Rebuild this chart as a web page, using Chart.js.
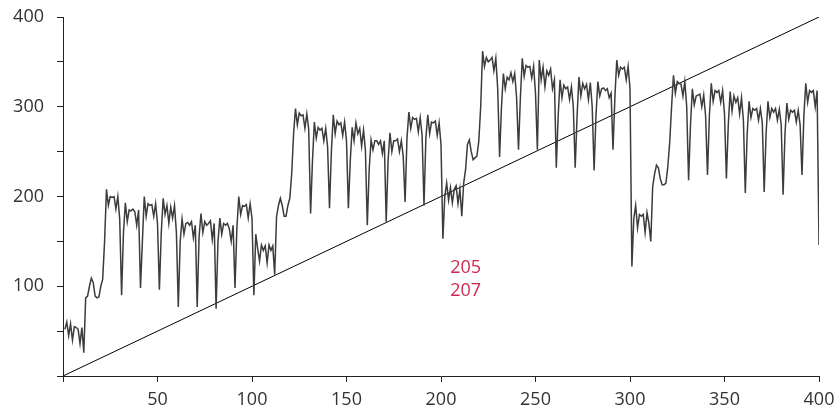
<!DOCTYPE html>
<html>
<head>
<meta charset="utf-8">
<script src="https://cdn.jsdelivr.net/npm/chart.js@4.4.1/dist/chart.umd.min.js"></script>
<style>
html,body{margin:0;padding:0;background:#fff;}
#wrap{width:836px;height:419px;position:relative;}
</style>
</head>
<body>
<div id="wrap"><canvas id="c" width="836" height="419"></canvas></div>
<script>
// series values for x = 1 .. 400
const seriesStart = 1;
const values = [
 52,60,45,58,40,55,54,52,36,54,
 26,87,89,100,109,104,89,87,88,100,
 108,150,208,190,200,199,200,186,200,175,
 90,160,193,172,185,184,186,183,168,185,
 98,150,200,178,192,190,191,178,192,170,
 96,160,198,180,190,170,188,176,190,160,
 77,150,175,158,170,171,168,172,154,168,
 77,155,181,160,172,168,170,173,152,170,
 75,150,176,158,170,168,170,164,150,168,
 98,165,200,180,190,189,191,176,192,176,
 90,158,142,128,146,140,145,126,146,140,
 145,113,178,190,198,190,178,178,190,198,
 225,270,298,280,293,290,291,276,292,275,
 181,240,283,265,277,274,276,262,276,255,
 187,250,291,270,284,280,282,268,283,262,
 187,240,277,262,282,270,276,256,274,252,
 168,230,263,252,262,262,258,262,248,262,
 172,240,271,250,262,262,264,250,262,245,
 194,265,294,276,288,286,287,272,288,268,
 190,265,291,270,283,282,284,268,282,258,
 153,200,215,196,210,193,208,212,192,208,
 178,215,230,258,263,250,241,243,245,262,
 300,362,345,355,350,352,355,340,354,320,
 244,300,337,320,333,330,338,328,337,310,
 252,310,354,334,346,344,345,332,345,315,
 252,352,330,344,322,340,335,342,320,330,
 232,290,330,310,324,320,322,308,322,300,
 232,290,333,312,326,320,325,308,327,300,
 229,290,328,312,320,321,318,320,310,315,
 252,310,352,335,344,342,344,330,345,320,
 122,175,190,165,180,178,180,160,182,170,
 150,211,225,235,232,220,213,213,215,233,
 260,300,335,315,328,326,325,312,328,300,
 218,280,320,302,312,313,314,300,313,290,
 224,290,326,306,318,316,318,305,318,292,
 220,280,317,295,312,305,310,292,310,285,
 204,270,306,288,298,296,298,285,298,282,
 205,270,306,288,298,294,298,285,297,280,
 202,270,304,286,296,294,296,283,296,280,
 224,290,326,305,318,316,318,300,318,146
];
// reference diagonal y = x
const diagX = [0, 400];
const diagY = [0, 400];
// annotation texts and positions (data units)
const noteTexts = ['205', '207'];
const noteX = [213, 213];
const noteY = [121, 95];
// axis ticks
const xTickLabels = [50,100,150,200,250,300,350,400];
const yTickLabels = [100,200,300,400];

const seriesPoints = values.map((v,i)=>({x: seriesStart + i, y: v}));
const diagPoints = diagX.map((x,i)=>({x: x, y: diagY[i]}));

const notesPlugin = {
  id: 'notes',
  afterDatasetsDraw(chart){
    const ctx = chart.ctx, xs = chart.scales.x, ys = chart.scales.y;
    ctx.save();
    ctx.font = '18px "Open Sans"';
    ctx.fillStyle = '#d0294f';
    ctx.textAlign = 'center';
    ctx.textBaseline = 'middle';
    noteTexts.forEach((t,i)=>{
      ctx.fillText(t, xs.getPixelForValue(noteX[i]), ys.getPixelForValue(noteY[i]));
    });
    ctx.restore();
  }
};

Chart.defaults.font.family = '"Open Sans"';
Chart.defaults.font.size = 18;
Chart.defaults.color = '#333';

new Chart(document.getElementById('c'), {
  type: 'line',
  data: {
    datasets: [
      {
        data: seriesPoints,
        borderColor: '#3c3c3c',
        borderWidth: 1.5,
        pointRadius: 0,
        tension: 0,
        fill: false
      },
      {
        data: diagPoints,
        borderColor: '#000',
        borderWidth: 1,
        pointRadius: 0,
        fill: false
      }
    ]
  },
  options: {
    responsive: false,
    animation: false,
    events: [],
    layout: { padding: { left: 0, right: 17, top: 17, bottom: 0 } },
    plugins: { legend: { display: false }, tooltip: { enabled: false } },
    scales: {
      x: {
        type: 'linear', min: 0, max: 400,
        afterFit(s){ s.height = 43; s.paddingLeft = 0; s.paddingRight = 0; },
        afterBuildTicks(s){ s.ticks = [0].concat(xTickLabels).map(v=>({value:v})); },
        ticks: {
          padding: 7,
          maxRotation: 0,
          callback: v => xTickLabels.includes(v) ? String(v) : ''
        },
        grid: { display: true, drawOnChartArea: false, drawTicks: true, tickLength: 6, color: '#222' },
        border: { display: true, color: '#222', width: 1 }
      },
      y: {
        type: 'linear', min: 0, max: 400,
        afterFit(s){ s.width = 63; s.paddingTop = 0; s.paddingBottom = 0; },
        afterBuildTicks(s){ const t=[]; for (let v=0; v<=400; v+=50) t.push({value:v}); s.ticks = t; },
        ticks: {
          padding: 13,
          callback: v => yTickLabels.includes(v) ? String(v) : ''
        },
        grid: { display: true, drawOnChartArea: false, drawTicks: true, tickLength: 6, color: '#222' },
        border: { display: true, color: '#222', width: 1 }
      }
    }
  },
  plugins: [notesPlugin]
});
</script>
</body>
</html>
